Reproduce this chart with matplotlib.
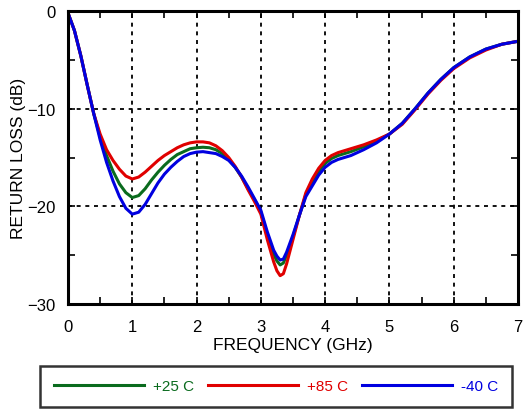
import numpy as np
import matplotlib
matplotlib.use('Agg')
from matplotlib import pyplot as plt
from matplotlib.ticker import MultipleLocator

plt.rcParams['font.family'] = ['Liberation Sans', 'DejaVu Sans']

# frequency points (GHz)
freq = [0, 0.1, 0.2, 0.3, 0.4, 0.5, 0.6, 0.7, 0.8, 0.9, 1.0, 1.1, 1.2, 1.3, 1.4,
        1.5, 1.6, 1.7, 1.8, 1.9, 2.0, 2.1, 2.2, 2.3, 2.4, 2.5, 2.6, 2.7, 2.8,
        2.9, 3.0, 3.1, 3.2, 3.25, 3.3, 3.35, 3.4, 3.5, 3.6, 3.7, 3.8, 3.9, 4.0,
        4.1, 4.2, 4.4, 4.6, 4.8, 5.0, 5.2, 5.4, 5.6, 5.8, 6.0, 6.25, 6.5, 6.75, 7.0]

# return loss (dB) per temperature
rl_25 = [-0.2, -2.0, -4.6, -7.6, -10.5, -12.9, -14.8, -16.4, -17.7, -18.6, -19.1,
         -18.9, -18.2, -17.3, -16.5, -15.8, -15.2, -14.7, -14.4, -14.1, -14.0,
         -13.95, -14.0, -14.2, -14.6, -15.2, -16.0, -17.0, -18.2, -19.3, -20.6,
         -22.9, -24.9, -25.6, -26.0, -25.8, -25.0, -23.1, -20.9, -18.8, -17.5,
         -16.4, -15.6, -15.1, -14.8, -14.4, -13.9, -13.3, -12.6, -11.5, -10.0,
         -8.4, -7.0, -5.8, -4.7, -3.9, -3.4, -3.1]
rl_85 = [-0.2, -2.0, -4.6, -7.6, -10.5, -12.6, -14.2, -15.3, -16.2, -16.9, -17.2,
         -17.0, -16.5, -15.9, -15.3, -14.8, -14.4, -14.0, -13.7, -13.5, -13.4,
         -13.4, -13.5, -13.8, -14.3, -15.0, -15.9, -17.0, -18.3, -19.5, -20.8,
         -23.4, -25.7, -26.6, -27.1, -26.9, -25.9, -23.4, -20.9, -18.6, -17.2,
         -16.1, -15.3, -14.8, -14.5, -14.1, -13.7, -13.2, -12.6, -11.6, -10.1,
         -8.5, -7.1, -5.9, -4.8, -4.0, -3.4, -3.1]
rl_m40 = [-0.2, -2.0, -4.6, -7.6, -10.5, -13.2, -15.5, -17.4, -19.0, -20.2, -20.8,
          -20.6, -19.8, -18.7, -17.6, -16.7, -16.0, -15.4, -14.9, -14.6, -14.45,
          -14.4, -14.5, -14.6, -14.9, -15.3, -16.0, -16.9, -18.0, -19.2, -20.4,
          -22.6, -24.5, -25.1, -25.5, -25.4, -24.7, -22.9, -20.9, -19.0, -17.9,
          -16.8, -16.0, -15.5, -15.2, -14.8, -14.2, -13.5, -12.6, -11.5, -10.0,
          -8.4, -7.0, -5.8, -4.7, -3.9, -3.4, -3.1]

fig = plt.figure(figsize=(5.23, 4.10), dpi=100)
ax = fig.add_axes([68 / 523, 1 - 305 / 410, 450 / 523, 293 / 410])

ax.plot(freq, rl_25, color='#0a6b1e', lw=2.2, label='+25 C')
ax.plot(freq, rl_85, color='#e00000', lw=2.2, label='+85 C')
ax.plot(freq, rl_m40, color='#0000e0', lw=2.2, label='-40 C')

ax.set_xlim(0, 7)
ax.set_ylim(-30, 0)
ax.xaxis.set_major_locator(MultipleLocator(1))
ax.xaxis.set_minor_locator(MultipleLocator(0.5))
ax.yaxis.set_major_locator(MultipleLocator(10))
ax.yaxis.set_minor_locator(MultipleLocator(5))
ax.tick_params(which='both', direction='in', top=True, right=True,
               width=1.2, length=5, labelsize=12)
ax.tick_params(axis='x', pad=11)
ax.tick_params(axis='y', pad=9)
ax.grid(True, which='major', color='black', linestyle=(0, (2.2, 2.6)), lw=1.3)
for s in ax.spines.values():
    s.set_linewidth(2.2)

ax.set_xlabel('FREQUENCY (GHz)', fontsize=12.5, labelpad=2)
ax.set_ylabel('RETURN LOSS (dB)', fontsize=12.5, labelpad=1)

leg = fig.legend(loc='lower center', ncol=3, bbox_to_anchor=(276 / 523, 2 / 410),
                 borderaxespad=0, fontsize=11, labelcolor='linecolor',
                 handlelength=5.9, handletextpad=0.6, columnspacing=0.9,
                 borderpad=0.9, fancybox=False)
leg.get_frame().set_edgecolor('black')
leg.get_frame().set_linewidth(1.8)

fig.savefig('out.png', dpi=100)
